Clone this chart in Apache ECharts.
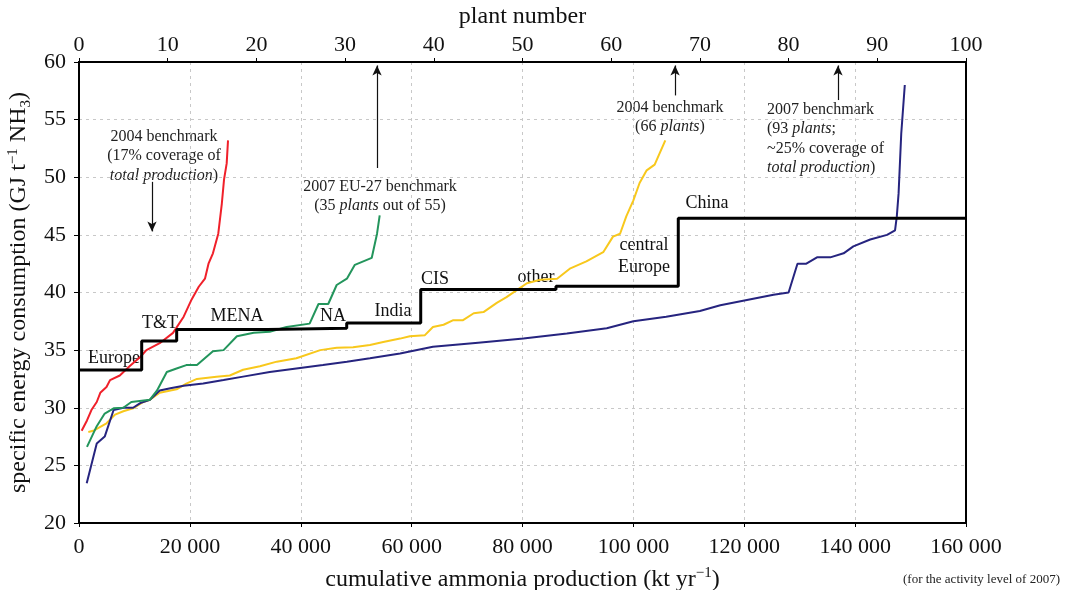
<!DOCTYPE html>
<html>
<head>
<meta charset="utf-8">
<script src="https://cdn.jsdelivr.net/npm/echarts@6/dist/echarts.min.js"></script>
<style>
  html, body { margin: 0; padding: 0; background: #fff; }
  #chart { width: 1065px; height: 590px; }
</style>
</head>
<body>
<div id="chart"></div>
<script>
// Plant curves: [plant number, specific energy consumption (GJ/t NH3)]
const bench2004_17 = [
  [0.3, 28.0], [0.9, 28.9], [1.4, 29.8], [2.0, 30.5], [2.4, 31.3], [3.1, 31.8],
  [3.5, 32.4], [4.6, 32.8], [5.7, 33.6], [6.9, 34.4], [7.6, 35.0], [9.1, 35.6],
  [10.6, 36.5], [11.8, 37.9], [12.7, 39.4], [13.5, 40.5], [14.2, 41.2], [14.6, 42.5],
  [15.1, 43.4], [15.7, 45.1], [16.1, 47.7], [16.35, 49.8], [16.65, 51.2], [16.8, 53.2]
];
const euBench2007 = [
  [0.9, 26.6], [2.0, 28.4], [2.9, 29.5], [3.9, 29.95], [5.0, 30.0], [5.9, 30.5],
  [8.0, 30.7], [8.8, 31.5], [9.9, 33.1], [11.0, 33.4], [12.1, 33.7], [13.3, 33.7],
  [15.1, 34.9], [16.3, 35.0], [17.8, 36.2], [19.7, 36.5], [21.5, 36.6], [23.4, 37.0],
  [26.0, 37.3], [27.0, 39.0], [28.1, 39.0], [29.05, 40.65], [30.2, 41.2], [31.1, 42.4],
  [33.0, 43.0], [33.6, 45.1], [33.9, 46.7]
];
const bench2004_66 = [
  [1.05, 27.9], [1.6, 28.0], [3.1, 28.65], [4.06, 29.4], [5.0, 29.7], [6.1, 29.95],
  [7.25, 30.5], [8.0, 30.7], [9.1, 31.3], [11.0, 31.6], [12.1, 32.1], [13.3, 32.5],
  [15.5, 32.7], [17.0, 32.8], [18.5, 33.3], [20.4, 33.6], [22.3, 34.0], [24.5, 34.3],
  [27.2, 35.0], [29.05, 35.2], [30.9, 35.25], [32.8, 35.45], [34.3, 35.7], [36.2, 36.0],
  [37.3, 36.2], [39.0, 36.3], [39.9, 37.0], [41.1, 37.2], [42.2, 37.6], [43.3, 37.6],
  [44.5, 38.2], [45.6, 38.3], [47.1, 39.1], [48.2, 39.6], [49.35, 40.2], [50.5, 40.8],
  [52.0, 41.1], [53.9, 41.2], [55.4, 42.1], [57.2, 42.7], [59.1, 43.5], [60.2, 44.85],
  [61.0, 45.1], [61.7, 46.6], [62.5, 48.0], [63.2, 49.5], [64.0, 50.6], [64.9, 51.1],
  [66.1, 53.2]
];
const bench2007_93 = [
  [0.87, 23.45], [2.0, 26.9], [2.9, 27.5], [3.9, 29.8], [5.0, 30.0], [6.1, 30.0],
  [6.9, 30.4], [8.0, 30.7], [9.1, 31.5], [10.3, 31.7], [11.8, 31.9], [14.0, 32.1],
  [16.3, 32.4], [18.5, 32.7], [21.5, 33.1], [24.5, 33.4], [27.5, 33.7], [30.2, 34.0],
  [32.8, 34.3], [36.2, 34.7], [39.9, 35.3], [45.0, 35.65], [50.1, 36.0], [55.0, 36.45],
  [59.5, 36.9], [62.5, 37.5], [66.2, 37.9], [70.0, 38.4], [72.3, 38.9], [75.3, 39.35],
  [78.3, 39.8], [80.0, 40.0], [81.0, 42.5], [82.0, 42.5], [83.2, 43.05], [84.7, 43.05],
  [86.2, 43.4], [87.3, 44.0], [89.2, 44.6], [91.1, 45.0], [92.0, 45.4], [92.2, 46.6],
  [92.4, 48.6], [92.7, 53.8], [93.1, 58.0]
];

// Regional averages: start of each region on the cumulative production axis (kt/yr) and its level
const regionStart = [0, 11310, 17620, 34000, 48290, 61640, 86040, 108100, 160000];
const regionLevel = [33.27, 35.8, 36.8, 36.9, 37.35, 40.25, 40.55, 46.45, 46.45];

// Axis ticks
const yTicks = { min: 20, max: 60, interval: 5 };
const prodTicks = { min: 0, max: 160000, interval: 20000 };
const plantTicks = { min: 0, max: 100, interval: 10 };

const regionData = regionStart.map((x, i) => [x, regionLevel[i]]);

const serif = 'Liberation Serif';
const chart = echarts.init(document.getElementById('chart'), null, { renderer: 'canvas' });

function spaced(v) {
  const s = String(Math.round(v));
  return s.replace(/\B(?=(\d{3})+(?!\d))/g, ' ');
}

const annText = { fontFamily: serif, fontSize: 16, fill: '#222', lineHeight: 19.5 };
const annRich = {
  n: { fontFamily: serif, fontSize: 16, fill: '#222', lineHeight: 19.5 },
  i: { fontFamily: serif, fontSize: 16, fontStyle: 'italic', fill: '#222', lineHeight: 19.5 }
};
const regText = { fontFamily: serif, fontSize: 18, fill: '#111' };
const gridDash = { show: true, showMinLine: false, showMaxLine: false, lineStyle: { color: '#c8c8c8', type: [3, 4], width: 1 } };
const supStyle = { fontFamily: serif, fontSize: 15, color: '#111', verticalAlign: 'top', lineHeight: 28, padding: [0, 0, 9, 0] };
const subStyle = { fontFamily: serif, fontSize: 15, color: '#111', verticalAlign: 'bottom', lineHeight: 28, padding: [7, 0, 0, 0] };

chart.setOption({
  animation: false,
  backgroundColor: '#fff',
  grid: {
    left: 79, right: 99, top: 62, bottom: 67,
    containLabel: false, outerBoundsMode: 'none',
    show: true, borderColor: '#000', borderWidth: 2, backgroundColor: 'transparent'
  },
  xAxis: [
    {
      type: 'value', position: 'bottom',
      min: prodTicks.min, max: prodTicks.max, interval: prodTicks.interval,
      name: 'cumulative ammonia production (kt yr{s|−1})',
      nameLocation: 'middle', nameGap: 43,
      nameTextStyle: { fontFamily: serif, fontSize: 24, color: '#111', lineHeight: 28, rich: { s: supStyle } },
      axisLine: { show: true, lineStyle: { color: '#000', width: 2 } },
      axisTick: { show: true, length: 4, lineStyle: { color: '#000' } },
      axisLabel: { fontFamily: serif, fontSize: 22, color: '#111', margin: 13, formatter: spaced },
      splitLine: gridDash
    },
    {
      type: 'value', position: 'top',
      min: plantTicks.min, max: plantTicks.max, interval: plantTicks.interval,
      name: 'plant number', nameLocation: 'middle', nameGap: 26,
      nameTextStyle: { fontFamily: serif, fontSize: 24, color: '#111' },
      axisLine: { show: true, lineStyle: { color: '#000', width: 2 } },
      axisTick: { show: true, length: 4, lineStyle: { color: '#000' } },
      axisLabel: { fontFamily: serif, fontSize: 22, color: '#111', margin: 6 },
      splitLine: { show: false }
    }
  ],
  yAxis: {
    type: 'value', min: yTicks.min, max: yTicks.max, interval: yTicks.interval,
    name: 'specific energy consumption (GJ t{s|−1} NH{b|3})',
    nameLocation: 'middle', nameGap: 33,
    nameTextStyle: { fontFamily: serif, fontSize: 24, color: '#111', lineHeight: 28, rich: { s: supStyle, b: subStyle } },
    axisLine: { show: true, lineStyle: { color: '#000', width: 2 } },
    axisTick: { show: true, length: 5, lineStyle: { color: '#000' } },
    axisLabel: { fontFamily: serif, fontSize: 22, color: '#111', margin: 13 },
    splitLine: gridDash
  },
  series: [
    {
      name: 'regions', type: 'line', xAxisIndex: 0, step: 'end',
      data: regionData, symbol: 'none', z: 5,
      lineStyle: { color: '#000', width: 3 }
    },
    {
      name: '2004 benchmark (17%)', type: 'line', xAxisIndex: 1,
      data: bench2004_17, symbol: 'none', z: 4,
      lineStyle: { color: '#f0202a', width: 2 }
    },
    {
      name: '2007 EU-27 benchmark', type: 'line', xAxisIndex: 1,
      data: euBench2007, symbol: 'none', z: 4,
      lineStyle: { color: '#23955c', width: 2 }
    },
    {
      name: '2004 benchmark (66 plants)', type: 'line', xAxisIndex: 1,
      data: bench2004_66, symbol: 'none', z: 3,
      lineStyle: { color: '#f8c81c', width: 2 }
    },
    {
      name: '2007 benchmark (93 plants)', type: 'line', xAxisIndex: 1,
      data: bench2007_93, symbol: 'none', z: 3,
      lineStyle: { color: '#26247f', width: 2 },
      markLine: {
        silent: true, symbol: ['none', 'arrow'], symbolSize: [7, 10],
        label: { show: false },
        lineStyle: { color: '#111', width: 1.2, type: 'solid' },
        data: [
          [{ coord: [8.23, 49.6] }, { coord: [8.23, 45.3] }],
          [{ coord: [33.6, 50.8] }, { coord: [33.6, 59.7] }],
          [{ coord: [67.2, 57.1] }, { coord: [67.2, 59.7] }],
          [{ coord: [85.57, 56.7] }, { coord: [85.57, 59.7] }]
        ]
      }
    }
  ],
  graphic: [
    // benchmark notes
    { type: 'text', x: 164, y: 127, style: { text: '{n|2004 benchmark}\n{n|(17% coverage of}\n{i|total production}{n|)}', align: 'center', rich: annRich, ...annText } },
    { type: 'text', x: 380, y: 177, style: { text: '{n|2007 EU-27 benchmark}\n{n|(35 }{i|plants}{n| out of 55)}', align: 'center', rich: annRich, ...annText } },
    { type: 'text', x: 670, y: 98, style: { text: '{n|2004 benchmark}\n{n|(66 }{i|plants}{n|)}', align: 'center', rich: annRich, ...annText } },
    { type: 'text', x: 767, y: 100, style: { text: '{n|2007 benchmark}\n{n|(93 }{i|plants}{n|;}\n{n|~25% coverage of}\n{i|total production}{n|)}', align: 'left', rich: annRich, ...annText } },
    // regions
    { type: 'text', x: 114, y: 358, style: { text: 'Europe', align: 'center', verticalAlign: 'middle', ...regText } },
    { type: 'text', x: 160, y: 323, style: { text: 'T&T', align: 'center', verticalAlign: 'middle', ...regText } },
    { type: 'text', x: 237, y: 316, style: { text: 'MENA', align: 'center', verticalAlign: 'middle', ...regText } },
    { type: 'text', x: 333, y: 316, style: { text: 'NA', align: 'center', verticalAlign: 'middle', ...regText } },
    { type: 'text', x: 393, y: 311, style: { text: 'India', align: 'center', verticalAlign: 'middle', ...regText } },
    { type: 'text', x: 435, y: 279, style: { text: 'CIS', align: 'center', verticalAlign: 'middle', ...regText } },
    { type: 'text', x: 536, y: 277, style: { text: 'other', align: 'center', verticalAlign: 'middle', ...regText } },
    { type: 'text', x: 644, y: 256, style: { text: 'central\nEurope', align: 'center', verticalAlign: 'middle', lineHeight: 22, ...regText } },
    { type: 'text', x: 707, y: 203, style: { text: 'China', align: 'center', verticalAlign: 'middle', ...regText } },
    // footnote
    { type: 'text', right: 5, y: 573, style: { text: '(for the activity level of 2007)', fontFamily: serif, fontSize: 13, fill: '#222' } }
  ]
});
</script>
</body>
</html>
